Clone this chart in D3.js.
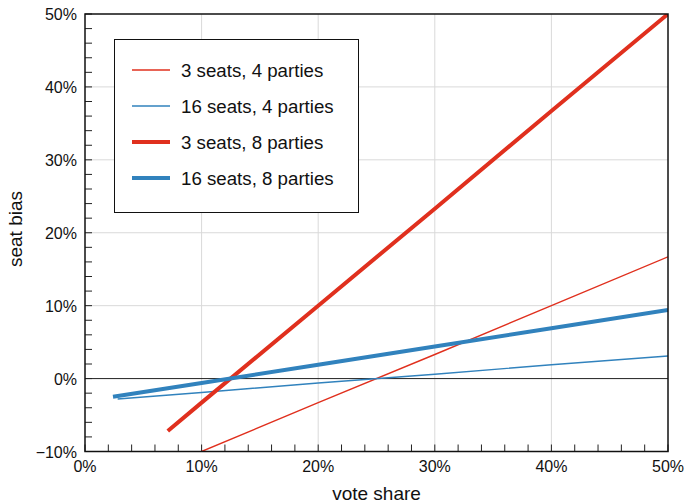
<!DOCTYPE html>
<html>
<head>
<meta charset="utf-8">
<script src="https://cdn.jsdelivr.net/npm/d3@7"></script>
<style>
  html, body { margin: 0; padding: 0; background: #fff; }
  svg { display: block; font-family: "Liberation Sans", Arial, sans-serif; }
</style>
</head>
<body>
<svg id="chart" width="685" height="503"></svg>
<script>
'use strict';

// series: vote share (%) vs seat bias (%)
var seriesNames = ['3 seats, 4 parties', '16 seats, 4 parties', '3 seats, 8 parties', '16 seats, 8 parties'];
var seriesColors = ['#e0301e', '#3182bd', '#e0301e', '#3182bd'];
var seriesWidths = [1.4, 1.4, 4, 4];

var thinRedX = [10, 20, 30, 40, 50];
var thinRedY = [-10, -3.3, 3.3, 10, 16.7];
var thinBlueX = [2.8, 10, 20, 30, 40, 50];
var thinBlueY = [-2.8, -1.9, -0.6, 0.6, 1.9, 3.1];
var thickRedX = [7.1, 10, 20, 30, 40, 50];
var thickRedY = [-7.2, -3.3, 10, 23.3, 36.7, 50];
var thickBlueX = [2.4, 10, 20, 30, 40, 50];
var thickBlueY = [-2.5, -0.6, 1.9, 4.4, 6.9, 9.4];

var xTicks = [0, 10, 20, 30, 40, 50];
var yTicks = [-10, 0, 10, 20, 30, 40, 50];
var minorStep = 2;

var svg = d3.select('#chart'),
    plotLeft = 85,
    plotRight = 668,
    plotTop = 14,
    plotBottom = 451.5,
    x,
    y,
    plot,
    line,
    legend,
    series,
    minorX,
    minorY;

x = d3.scaleLinear().domain([0, 50]).range([plotLeft, plotRight]);
y = d3.scaleLinear().domain([-10, 50]).range([plotBottom, plotTop]);

minorX = d3.range(0, 50 + 0.001, minorStep);
minorY = d3.range(-10, 50 + 0.001, minorStep);

series = [
  {xs: thinRedX, ys: thinRedY},
  {xs: thinBlueX, ys: thinBlueY},
  {xs: thickRedX, ys: thickRedY},
  {xs: thickBlueX, ys: thickBlueY}
].map(function (s, i) {
  return {
    name: seriesNames[i],
    color: seriesColors[i],
    width: seriesWidths[i],
    points: s.xs.map(function (v, j) { return [v, s.ys[j]]; })
  };
});

svg.append('defs').append('clipPath').attr('id', 'clip')
  .append('rect')
  .attr('x', plotLeft).attr('y', plotTop)
  .attr('width', plotRight - plotLeft).attr('height', plotBottom - plotTop);

// grid
plot = svg.append('g');
plot.selectAll('line.gx').data(xTicks.slice(1, -1)).enter().append('line')
  .attr('x1', x).attr('x2', x).attr('y1', plotTop).attr('y2', plotBottom)
  .attr('stroke', '#d9d9d9').attr('stroke-width', 1);
plot.selectAll('line.gy').data(yTicks.slice(1, -1)).enter().append('line')
  .attr('y1', y).attr('y2', y).attr('x1', plotLeft).attr('x2', plotRight)
  .attr('stroke', function (d) { return d === 0 ? '#222' : '#d9d9d9'; })
  .attr('stroke-width', 1);

// minor ticks, inward
plot.selectAll('line.tx').data(minorX).enter().append('line')
  .attr('x1', x).attr('x2', x).attr('y1', plotBottom).attr('y2', plotBottom - 7)
  .attr('stroke', '#222').attr('stroke-width', 1);
plot.selectAll('line.ty').data(minorY).enter().append('line')
  .attr('y1', y).attr('y2', y).attr('x1', plotLeft).attr('x2', plotLeft + 7)
  .attr('stroke', '#222').attr('stroke-width', 1);

// series lines
line = d3.line()
  .x(function (d) { return x(d[0]); })
  .y(function (d) { return y(d[1]); });

svg.append('g').attr('clip-path', 'url(#clip)')
  .selectAll('path').data(series).enter().append('path')
  .attr('d', function (d) { return line(d.points); })
  .attr('fill', 'none')
  .attr('stroke', function (d) { return d.color; })
  .attr('stroke-width', function (d) { return d.width; });

// frame
svg.append('rect')
  .attr('x', plotLeft).attr('y', plotTop)
  .attr('width', plotRight - plotLeft).attr('height', plotBottom - plotTop)
  .attr('fill', 'none').attr('stroke', '#111').attr('stroke-width', 1.5);

// tick labels
svg.selectAll('text.xl').data(xTicks).enter().append('text')
  .attr('x', x).attr('y', 471.5)
  .attr('text-anchor', 'middle').attr('font-size', 16).attr('fill', '#111')
  .text(function (d) { return d + '%'; });
svg.selectAll('text.yl').data(yTicks).enter().append('text')
  .attr('x', 77).attr('y', function (d) { return y(d) + 6; })
  .attr('text-anchor', 'end').attr('font-size', 16).attr('fill', '#111')
  .text(function (d) { return (d < 0 ? '\u2212' + (-d) : d) + '%'; });

// axis titles
svg.append('text')
  .attr('x', (plotLeft + plotRight) / 2).attr('y', 500)
  .attr('text-anchor', 'middle').attr('font-size', 19).attr('fill', '#111')
  .text('vote share');
svg.append('text')
  .attr('transform', 'translate(22,229) rotate(-90)')
  .attr('text-anchor', 'middle').attr('font-size', 19).attr('fill', '#111')
  .text('seat bias');

// legend
legend = svg.append('g');
legend.append('rect')
  .attr('x', 114.5).attr('y', 39.5).attr('width', 244).attr('height', 173)
  .attr('fill', '#fff').attr('stroke', '#111').attr('stroke-width', 1);

legend.selectAll('g.item').data(series).enter().append('g')
  .attr('transform', function (d, i) { return 'translate(0,' + (70 + i * 36) + ')'; })
  .each(function (d) {
    var g = d3.select(this);
    g.append('line')
      .attr('x1', 132).attr('x2', 170).attr('y1', 0).attr('y2', 0)
      .attr('stroke', d.color).attr('stroke-width', d.width);
    g.append('text')
      .attr('x', 181).attr('y', 6.5)
      .attr('font-size', 18.7).attr('fill', '#111')
      .text(d.name);
  });
</script>
</body>
</html>
